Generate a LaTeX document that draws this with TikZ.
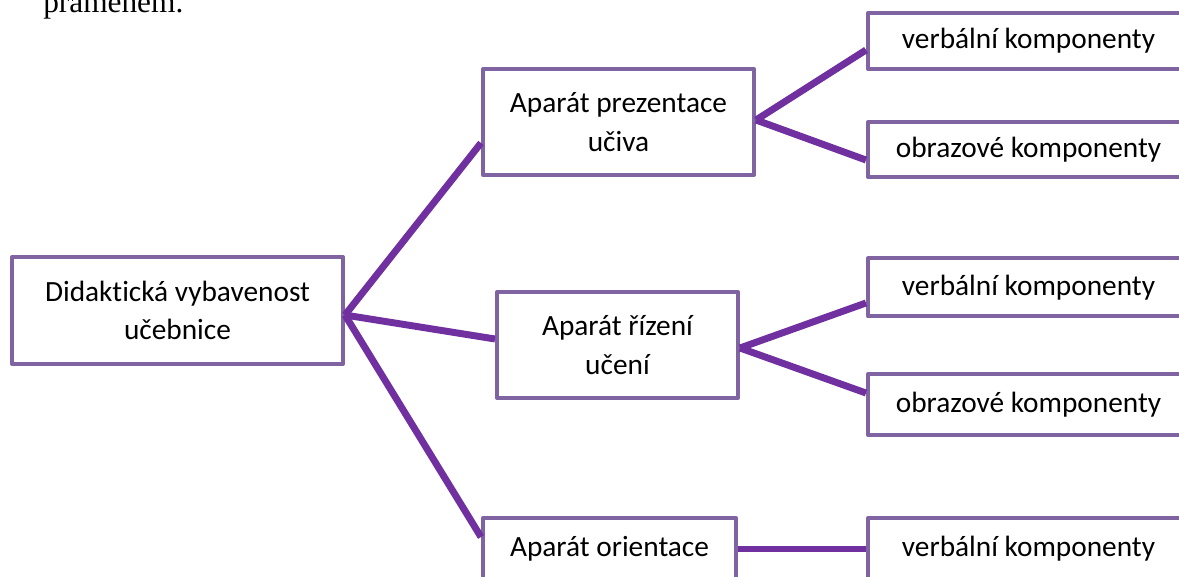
\documentclass[tikz,border=0pt]{standalone}
\usepackage{fontspec}
\setmainfont{Carlito}[Ligatures=NoCommon]
\newfontfamily\timesfont{Liberation Serif}
\definecolor{boxPurple}{HTML}{8064A2}
\definecolor{linePurple}{HTML}{7030A0}

\begin{document}
\begin{tikzpicture}
[x=0.75pt,y=-0.75pt,%
  boxDecorate/.style={shape=rectangle,draw=boxPurple,line width=3pt,
    line join=round,align=center,inner sep=0pt,
    font=\fontsize{22}{29}\selectfont},%
  lineDecorate/.style={-,draw=linePurple,line width=5.2pt}]
\useasboundingbox (0,0) rectangle (1179,577);
\clip (0,0) rectangle (1179,577);
%% text above the picture
\node (prev) at (43,13) [anchor=base west,inner sep=0pt,
  font=\timesfont\fontsize{23.5}{28}\selectfont] {pramenem.};
%% boxes
\foreach \nodename/\x/\y/\w/\h/\label in {
  root/177.5/310.5/331/107/Didaktická vybavenost\\učebnice,
  prez/618.5/122/271/106/Aparát prezentace\\učiva,
  riz/617.5/345/241/106/Aparát řízení\\učení,
  ori/609.5/549/253/62/Aparát orientace,
  v1/1028.5/41/321/56/verbální komponenty,
  o1/1028.5/149.5/321/55/obrazové komponenty,
  v2/1028.5/287.5/321/58/verbální komponenty,
  o2/1028.5/404.5/321/61/obrazové komponenty,
  v3/1028.5/549/321/62/verbální komponenty}
{
  \node (\nodename) at (\x,\y) [boxDecorate,
    minimum width=\w*0.75pt,minimum height=\h*0.75pt] {\label};
}
%% connectors
\path
\foreach \startnode/\sy/\endnode/\ey in {
  root.east/-3.4/prez.west/-15.75, root.east/-3.4/riz.west/4.5,
  root.east/-3.4/ori.west/9, prez.east/1.5/v1.west/-6.75,
  prez.east/1.5/o1.west/-7.9, riz.east/-2.25/v2.west/-11.6,
  riz.east/-2.25/o2.west/8.6, ori.east/0/v3.west/0}
{
  ([yshift=\sy pt]\startnode) edge[lineDecorate] ([yshift=\ey pt]\endnode)
};
\end{tikzpicture}
\end{document}
